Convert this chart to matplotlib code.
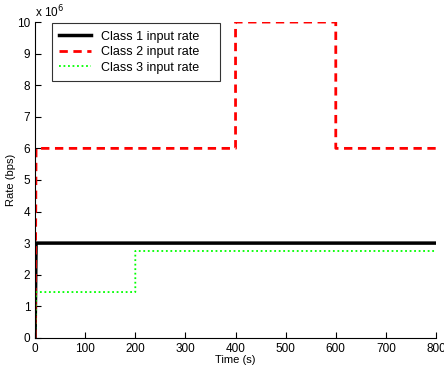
import matplotlib
matplotlib.use("Agg")
import matplotlib.pyplot as plt
import numpy as np

plt.rcParams['font.family'] = ['Liberation Sans', 'DejaVu Sans']

# step profiles (time in s, rate in Mbps)
t1 = [0, 2, 800]
r1 = [0, 3.0, 3.0]
t2 = [0, 2, 400, 400, 600, 600, 800]
r2 = [0, 6.0, 6.0, 10.0, 10.0, 6.0, 6.0]
t3 = [0, 2, 200, 200, 800]
r3 = [0, 1.45, 1.45, 2.75, 2.75]

fig = plt.figure(figsize=(4.44, 3.68), dpi=100)
ax = fig.add_axes([0.079, 0.082, 0.903, 0.858])

ax.plot(t1, np.array(r1) * 1e6, color='black', lw=2.5, label='Class 1 input rate    ')
ax.plot(t2, np.array(r2) * 1e6, color='red', lw=2, ls=(0, (3, 2)), label='Class 2 input rate    ')
ax.plot(t3, np.array(r3) * 1e6, color='#00ff00', lw=1.3, ls=(0, (1, 1.5)), label='Class 3 input rate    ')

ax.set_xlim(0, 800)
ax.set_ylim(0, 10e6)
ax.set_xticks(range(0, 801, 100))
ax.set_yticks(np.arange(0, 11) * 1e6)
ax.set_yticklabels([str(i) for i in range(11)])
ax.tick_params(direction='in', labelsize=8.5, length=4, width=0.8)
ax.spines['top'].set_visible(False)
ax.spines['right'].set_visible(False)
ax.text(0, 1.005, 'x 10$^6$', transform=ax.transAxes, fontsize=8.5, va='bottom', ha='left')

ax.set_xlabel('Time (s)', fontsize=8, labelpad=0)
ax.set_ylabel('Rate (bps)', fontsize=8, labelpad=1)

leg = ax.legend(loc='upper left', bbox_to_anchor=(0.042, 0.997), borderaxespad=0,
                fontsize=9, frameon=True, fancybox=False, edgecolor='black',
                handlelength=2.55, borderpad=0.6, labelspacing=0.28, handletextpad=0.75)
leg.get_frame().set_linewidth(0.8)

fig.savefig('out.png', dpi=100)
